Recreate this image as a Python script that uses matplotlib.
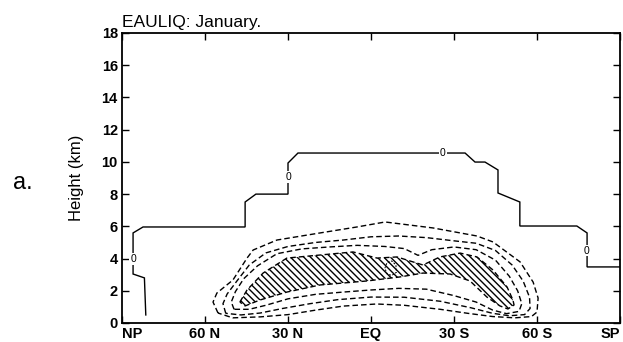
import numpy as np
import matplotlib
matplotlib.use("Agg")
import matplotlib.pyplot as plt

plt.rcParams['font.family'] = ['Liberation Sans', 'DejaVu Sans']
plt.rcParams['hatch.linewidth'] = 1.0

# ---------------- data (latitude in deg N, height in km) ----------------
xtick_vals = [90, 60, 30, 0, -30, -60, -90]
xtick_labels = ['NP', '60 N', '30 N', 'EQ', '30 S', '60 S', 'SP']
ytick_vals = [0, 2, 4, 6, 8, 10, 12, 14, 16, 18]

# zero contour (solid)
zero_lat = [81.4, 81.9, 86.0, 86.0, 82.4, 45.5, 45.5, 41.6, 30.0, 30.0, 26.4,
            -34.0, -37.6, -41.2, -45.9, -45.9, -53.8, -53.8, -74.4, -78.1, -78.1, -90.0]
zero_h = [0.5, 2.8, 3.04, 5.59, 5.96, 5.96, 7.51, 8.0, 8.0, 9.93, 10.55,
          10.55, 9.99, 9.99, 9.5, 8.07, 7.51, 6.02, 6.02, 5.59, 3.48, 3.48]
zero_label_lat = [86.0, 30.0, -26.0, -78.0]
zero_label_h = [3.97, 9.06, 10.55, 4.5]

# negative contours (dashed), outermost first
c1_lat = [55.3, 57.1, 55.7, 49.9, 44.8, 42.6, 34.0, 18.4, 5.1, -5.1, -22.4, -38.3,
          -44.1, -53.9, -58.6, -60.4, -60.0, -58.0, -52.0, -44.0, -35.0, -25.0,
          -12.0, -2.0, 10.0, 20.0, 30.0, 40.0, 50.0]
c1_h = [0.62, 1.30, 1.86, 2.67, 4.03, 4.53, 5.15, 5.59, 5.96, 6.27, 5.90, 5.40,
        5.03, 3.79, 2.54, 1.55, 0.68, 0.40, 0.32, 0.40, 0.60, 0.85,
        1.10, 1.18, 1.05, 0.80, 0.52, 0.38, 0.32]

c2_lat = [52.5, 53.5, 52.0, 48.5, 44.0, 38.0, 30.0, 20.0, 10.0, 0.0, -10.0, -20.0,
          -30.0, -38.0, -45.0, -51.0, -55.0, -57.3, -57.5, -55.5, -50.0, -44.0,
          -36.0, -25.0, -12.0, 0.0, 12.0, 22.0, 32.0, 40.0, 47.0]
c2_h = [0.60, 1.20, 1.80, 2.60, 3.60, 4.35, 4.75, 5.00, 5.15, 5.35, 5.40, 5.30,
        5.10, 4.95, 4.50, 3.60, 2.60, 1.60, 0.90, 0.52, 0.45, 0.60,
        0.95, 1.35, 1.60, 1.61, 1.45, 1.20, 0.90, 0.62, 0.50]

c3_lat = [49.5, 50.5, 49.0, 46.0, 41.0, 34.0, 25.0, 15.0, 5.0, -5.0, -12.0, -17.0,
          -22.0, -30.0, -38.0, -45.0, -50.0, -53.0, -54.5, -53.5, -49.0, -44.0,
          -38.0, -30.0, -20.0, -10.0, 0.0, 10.0, 20.0, 30.0, 38.0, 44.0]
c3_h = [0.85, 1.30, 1.95, 2.75, 3.55, 4.30, 4.60, 4.72, 4.82, 4.75, 4.62, 4.20,
        4.55, 4.72, 4.55, 3.90, 2.90, 2.00, 1.20, 0.72, 0.58, 0.80,
        1.30, 1.70, 2.10, 2.15, 2.05, 1.92, 1.78, 1.50, 1.10, 0.85]

# hatched core (innermost contour)
c4_lat = [47.4, 44.8, 39.0, 30.4, 18.4, 6.5, -2.2, -9.4, -18.8, -24.9, -32.2,
          -38.3, -44.1, -49.2, -51.3, -51.7, -49.5, -46.6, -41.9, -35.8, -28.6,
          -18.8, -10.5, 1.4, 18.4, 30.4, 40.1, 45.5]
c4_h = [1.30, 2.05, 3.10, 4.03, 4.22, 4.41, 4.03, 4.10, 3.60, 4.10, 4.34,
        4.10, 3.29, 2.23, 1.43, 1.12, 0.87, 1.06, 1.61, 2.61, 3.04,
        3.10, 2.86, 2.61, 2.36, 1.92, 1.43, 1.06]

# small closed contour inside the core
c5_lat = [-5.0, -5.8, -7.5, -9.0, -9.2, -7.5, -5.8]
c5_h = [3.40, 3.75, 3.85, 3.60, 3.15, 2.95, 3.05]

# ---------------- figure ----------------
fig = plt.figure(figsize=(6.23, 3.42), dpi=100)
ax = fig.add_axes([122 / 623, 19 / 342, 498 / 623, 290 / 342])

dash = (0, (4.0, 2.2))


def closed(a):
    return list(a) + [a[0]]


ax.fill(c4_lat, c4_h, facecolor='none', edgecolor='black',
        hatch='\\\\\\\\\\', linewidth=0)
for la, hh in [(c1_lat, c1_h), (c2_lat, c2_h), (c3_lat, c3_h), (c4_lat, c4_h)]:
    ax.plot(closed(la), closed(hh), color='black', lw=1.0, linestyle=dash)
ax.plot(closed(c5_lat), closed(c5_h), color='black', lw=0.7, linestyle=(0, (2, 1.5)))

ax.plot(zero_lat, zero_h, color='black', lw=1.0, solid_joinstyle='miter')
for la, hh in zip(zero_label_lat, zero_label_h):
    ax.text(la, hh, '0', fontsize=7.5, ha='center', va='center',
            bbox=dict(facecolor='white', edgecolor='none', pad=0.6))

ax.set_xlim(90, -90)
ax.set_ylim(0, 18)
ax.set_xticks(xtick_vals)
ax.set_xticklabels(xtick_labels, fontweight='bold')
xt = ax.get_xticklabels()
xt[0].set_horizontalalignment('left')
xt[-1].set_horizontalalignment('right')
ax.set_yticks(ytick_vals)
ax.set_yticklabels([str(v) for v in ytick_vals], fontweight='bold')
ax.tick_params(direction='in', length=5, width=1.0, top=True, right=True,
               labelsize=10.5, pad=3)
for s in ax.spines.values():
    s.set_linewidth(1.3)

ax.set_ylabel('Height (km)', fontsize=12, labelpad=13)
ax.text(0.0, 1.012, 'EAULIQ: January.', transform=ax.transAxes,
        fontsize=12.5, ha='left', va='bottom')
fig.text(23 / 623, 1 - 183 / 342, 'a.', fontsize=17, ha='center', va='center')

fig.savefig('out.png', dpi=100)
